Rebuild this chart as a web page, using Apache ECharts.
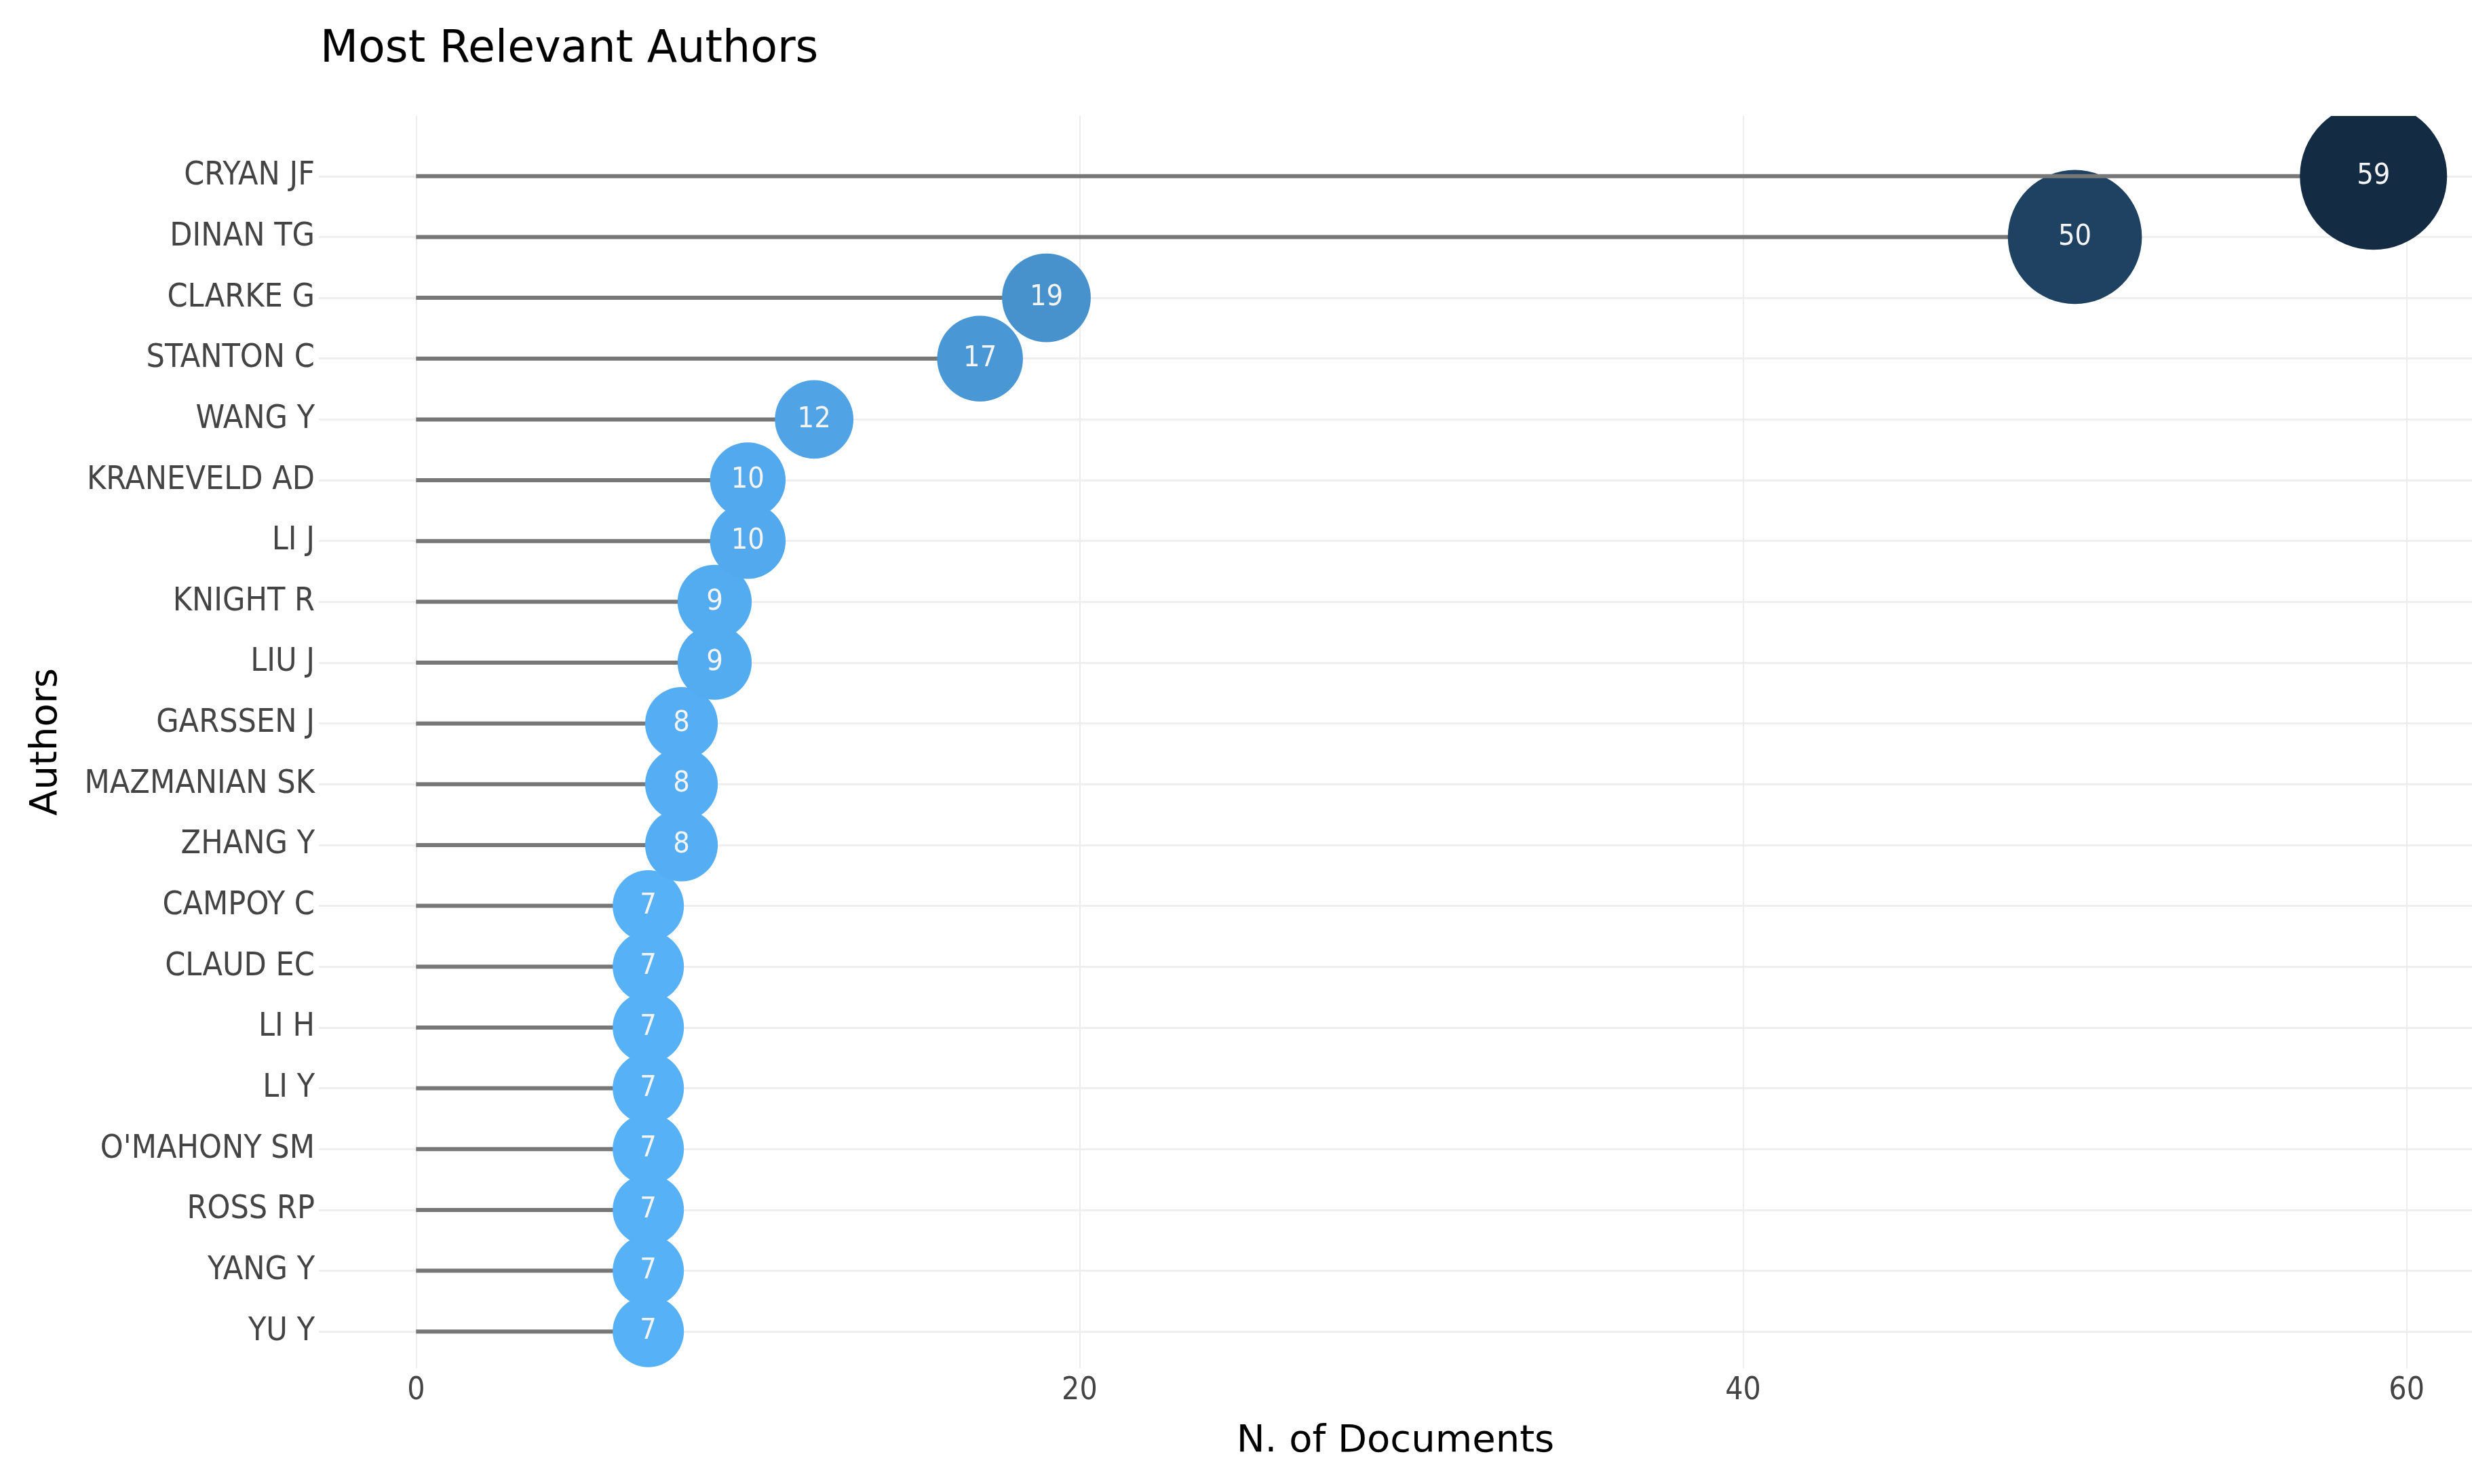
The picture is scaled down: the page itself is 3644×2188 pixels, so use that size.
<!DOCTYPE html>
<html><head><meta charset="utf-8">
<script src="https://cdn.jsdelivr.net/npm/echarts@6/dist/echarts.min.js"></script>
<style>html,body{margin:0;padding:0;background:#fff}#c{width:3644px;height:2188px}</style>
</head><body><div id="c"></div>
<script>
const authors = ['CRYAN JF','DINAN TG','CLARKE G','STANTON C','WANG Y','KRANEVELD AD','LI J','KNIGHT R','LIU J','GARSSEN J','MAZMANIAN SK','ZHANG Y','CAMPOY C','CLAUD EC','LI H','LI Y',"O'MAHONY SM",'ROSS RP','YANG Y','YU Y'];
const documents = [59,50,19,17,12,10,10,9,9,8,8,8,7,7,7,7,7,7,7,7];
const xTicks = [0,20,40,60];
const yTicks = authors.map((a, i) => i);

const FONT = '"DejaVu Sans"';
const NARROW = '"DejaVu Sans Condensed", "DejaVu Sans"';
const vMin = Math.min(...documents), vMax = Math.max(...documents);
const SIZE_MIN = 105, SIZE_MAX = 217;

// bottom row first so upper rows draw on top
const data = [];
for (let i = authors.length - 1; i >= 0; i--) data.push([documents[i], i]);

function renderItem(params, api) {
  const v = api.value(0), idx = api.value(1);
  const p0 = api.coord([0, idx]);
  const p1 = api.coord([v, idx]);
  const d = SIZE_MIN + (v - vMin) / (vMax - vMin) * (SIZE_MAX - SIZE_MIN);
  const cs = params.coordSys;
  return {
    type: 'group',
    clipPath: { type: 'rect', shape: { x: cs.x, y: cs.y, width: cs.width, height: cs.height } },
    children: [
      { type: 'line', shape: { x1: p0[0], y1: p0[1], x2: p1[0], y2: p1[1] }, style: { stroke: '#777777', lineWidth: 6 } },
      { type: 'circle', shape: { cx: p1[0], cy: p1[1], r: d / 2 }, style: { fill: api.visual('color') } },
      { type: 'text', x: p1[0], y: p1[1], style: { text: String(v), fill: '#f4f4f4', font: '43px ' + NARROW, align: 'center', verticalAlign: 'middle' } }
    ]
  };
}

const chart = echarts.init(document.getElementById('c'), null, { renderer: 'canvas' });
chart.setOption({
  backgroundColor: '#ffffff',
  animation: false,
  title: { text: 'Most Relevant Authors', left: 467, top: 37,
    textStyle: { fontFamily: FONT, fontSize: 65, fontWeight: 'normal', color: '#000' } },
  grid: { left: 470, right: 0, top: 171, bottom: 171 },
  visualMap: { show: false, type: 'continuous', dimension: 0, min: vMin, max: vMax, seriesIndex: 0,
    inRange: { color: ['#56B1F7', '#132B43'] } },
  xAxis: {
    type: 'value', min: -2.93, max: 61.97,
    name: 'N. of Documents', nameLocation: 'middle', nameGap: 80,
    nameTextStyle: { fontFamily: FONT, fontSize: 56, color: '#000' },
    axisLine: { show: false },
    axisTick: { show: false, customValues: xTicks },
    axisLabel: { customValues: xTicks, fontFamily: NARROW, fontSize: 46, color: '#444444', margin: 11 },
    splitLine: { show: true, lineStyle: { color: '#ececec', width: 2 } }
  },
  yAxis: {
    type: 'value', inverse: true, min: -0.99, max: 19.6,
    name: 'Authors', nameLocation: 'middle', nameGap: 374, nameRotate: 90,
    nameTextStyle: { fontFamily: FONT, fontSize: 56, color: '#000' },
    axisLine: { show: false },
    axisTick: { show: false, customValues: yTicks },
    axisLabel: { customValues: yTicks, formatter: v => authors[Math.round(v)] || '',
      fontFamily: NARROW, fontSize: 48, color: '#444444', margin: 6 },
    splitLine: { show: true, lineStyle: { color: '#efefef', width: 3 } }
  },
  series: [{ type: 'custom', renderItem: renderItem, data: data, encode: { x: 0, y: 1 } }]
});
</script></body></html>
